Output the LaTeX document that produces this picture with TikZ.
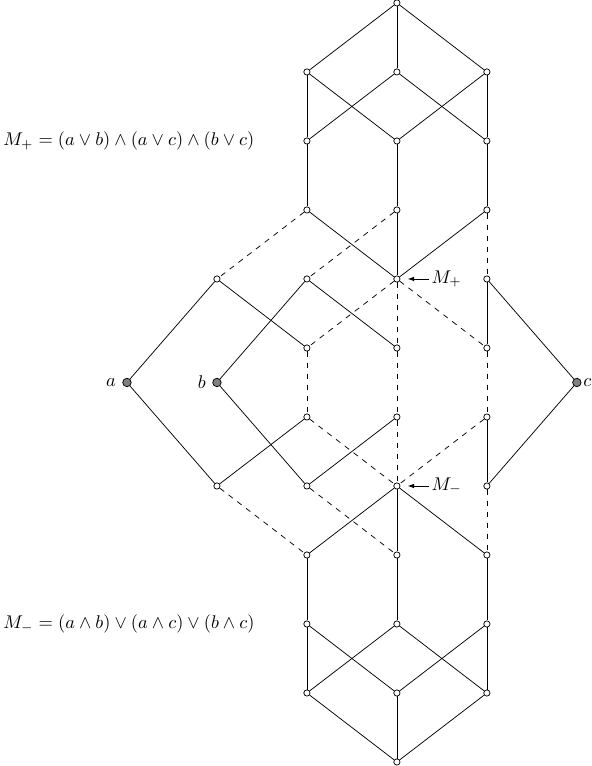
\documentclass[tikz,border=0pt]{standalone}
\usepackage{amsmath}
\usepackage{amssymb}
\usepackage{xcolor}
\usepackage{tikz}
\usetikzlibrary{positioning, arrows.meta}

\begin{document}
\begin{tikzpicture}[
    x=48.9pt, y=37.5pt,
    elem/.style={circle, draw, fill=white, inner sep=0pt, minimum size=3.4pt},
    gen/.style={circle, draw, fill=gray, inner sep=0pt, minimum size=4.6pt},
    weak/.style={dashed},
    pointer/.style={-{Latex[length=3.5pt, width=2.5pt]}, shorten >=4pt}
]

\useasboundingbox (-4.411, 5.543) rectangle (2.167, -5.558);

% upper cube
\node[elem] (top) at (0, 5.5) {};
\node[elem] (Bl) at (-1, 4.5) {};
\node[elem] (Bm) at (0, 4.5) {};
\node[elem] (Br) at (1, 4.5) {};
\node[elem] (Cl) at (-1, 3.5) {};
\node[elem] (Cm) at (0, 3.5) {};
\node[elem] (Cr) at (1, 3.5) {};
\node[elem] (Dl) at (-1, 2.5) {};
\node[elem] (Dm) at (0, 2.5) {};
\node[elem] (Dr) at (1, 2.5) {};

% middle part
\node[elem] (Ex) at (-2, 1.5) {};
\node[elem] (El) at (-1, 1.5) {};
\node[elem] (Mp) at (0, 1.5) {};
\node[elem] (Er) at (1, 1.5) {};
\node[elem] (Fl) at (-1, 0.5) {};
\node[elem] (Fm) at (0, 0.5) {};
\node[elem] (Fr) at (1, 0.5) {};

\node[gen, label=left:{$a$}] (a) at (-3, 0) {};
\node[gen, label=left:{$b$}] (b) at (-2, 0) {};
\node[gen, label={[inner sep=0.8pt]right:{$c$}}] (c) at (2, 0) {};

\node[elem] (Gl) at (-1, -0.5) {};
\node[elem] (Gm) at (0, -0.5) {};
\node[elem] (Gr) at (1, -0.5) {};
\node[elem] (Hx) at (-2, -1.5) {};
\node[elem] (Hl) at (-1, -1.5) {};
\node[elem] (Mm) at (0, -1.5) {};
\node[elem] (Hr) at (1, -1.5) {};

% lower cube
\node[elem] (Il) at (-1, -2.5) {};
\node[elem] (Im) at (0, -2.5) {};
\node[elem] (Ir) at (1, -2.5) {};
\node[elem] (Jl) at (-1, -3.5) {};
\node[elem] (Jm) at (0, -3.5) {};
\node[elem] (Jr) at (1, -3.5) {};
\node[elem] (Kl) at (-1, -4.5) {};
\node[elem] (Km) at (0, -4.5) {};
\node[elem] (Kr) at (1, -4.5) {};
\node[elem] (bot) at (0, -5.5) {};

% labels
\node[anchor=west, inner sep=0pt] (Mpform) at (-4.378, 3.5) {$M_+ = (a \vee b) \wedge (a \vee c) \wedge (b \vee c)$};
\node[anchor=west, inner sep=0pt] (Mmform) at (-4.378, -3.5) {$M_- = (a \wedge b) \vee (a \wedge c) \vee (b \wedge c)$};
\node[anchor=west, inner sep=1pt] (Mplab) at (0.36, 1.5) {$M_+$};
\node[anchor=west, inner sep=1pt] (Mmlab) at (0.36, -1.5) {$M_-$};

\draw[pointer] (Mplab) -- (Mp);
\draw[pointer] (Mmlab) -- (Mm);

% upper cube edges
\draw (top) -- (Bl);
\draw (top) -- (Bm);
\draw (top) -- (Br);
\draw (Bl) -- (Cl);
\draw (Bl) -- (Cm);
\draw (Bm) -- (Cl);
\draw (Bm) -- (Cr);
\draw (Br) -- (Cm);
\draw (Br) -- (Cr);
\draw (Cl) -- (Dl);
\draw (Cm) -- (Dm);
\draw (Cr) -- (Dr);
\draw (Dl) -- (Mp);
\draw (Dm) -- (Mp);
\draw (Dr) -- (Mp);

% middle edges
\draw[weak] (Dl) -- (Ex);
\draw[weak] (Dm) -- (El);
\draw[weak] (Dr) -- (Er);
\draw (Ex) -- (a);
\draw (Ex) -- (Fl);
\draw (El) -- (b);
\draw (El) -- (Fm);
\draw[weak] (Mp) -- (Fl);
\draw[weak] (Mp) -- (Fm);
\draw[weak] (Mp) -- (Fr);
\draw (Er) -- (Fr);
\draw (Er) -- (c);
\draw[weak] (Fl) -- (Gl);
\draw[weak] (Fm) -- (Gm);
\draw[weak] (Fr) -- (Gr);
\draw (a) -- (Hx);
\draw (Hx) -- (Gl);
\draw (b) -- (Hl);
\draw (Hl) -- (Gm);
\draw[weak] (Gl) -- (Mm);
\draw[weak] (Gm) -- (Mm);
\draw[weak] (Gr) -- (Mm);
\draw (Gr) -- (Hr);
\draw (Hr) -- (c);
\draw[weak] (Hx) -- (Il);
\draw[weak] (Hl) -- (Im);
\draw[weak] (Hr) -- (Ir);

% lower cube edges
\draw (Mm) -- (Il);
\draw (Mm) -- (Im);
\draw (Mm) -- (Ir);
\draw (Il) -- (Jl);
\draw (Im) -- (Jm);
\draw (Ir) -- (Jr);
\draw (Jl) -- (Kl);
\draw (Jl) -- (Km);
\draw (Jm) -- (Kl);
\draw (Jm) -- (Kr);
\draw (Jr) -- (Km);
\draw (Jr) -- (Kr);
\draw (Kl) -- (bot);
\draw (Km) -- (bot);
\draw (Kr) -- (bot);

\end{tikzpicture}
\end{document}
